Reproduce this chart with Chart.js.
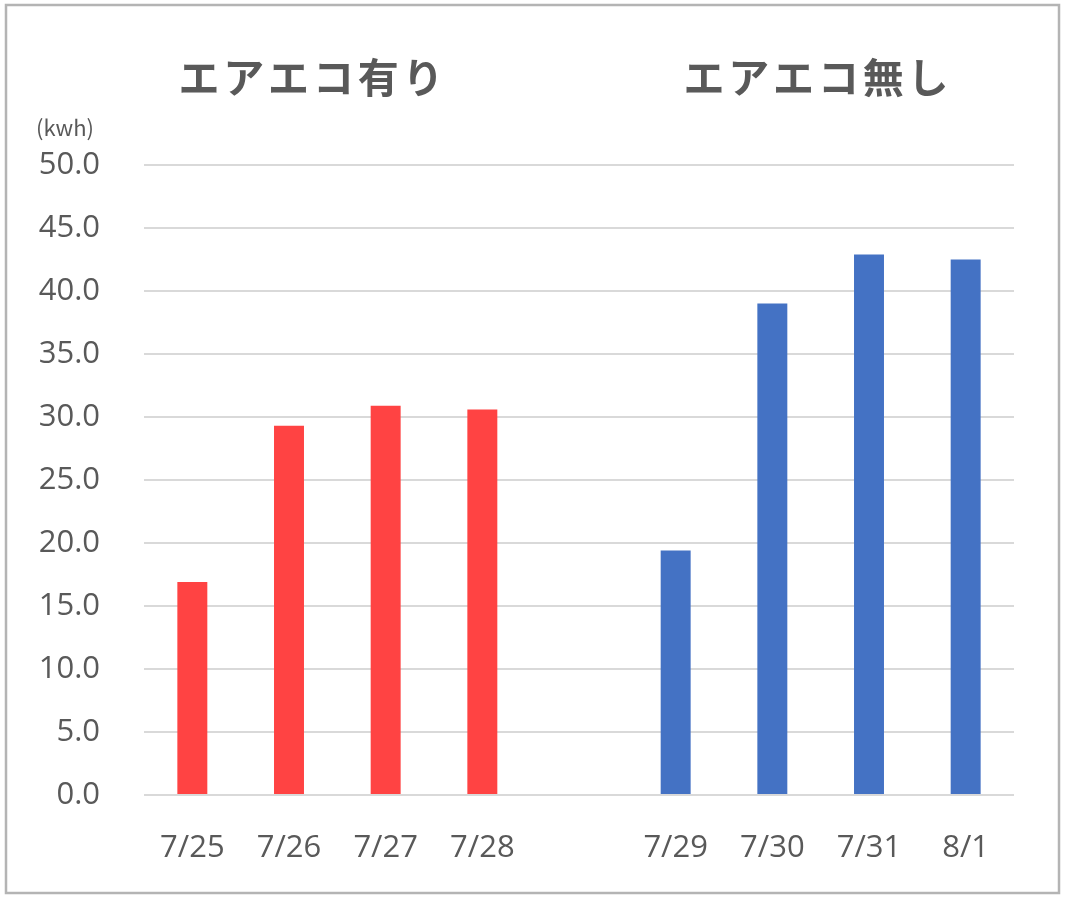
<!DOCTYPE html>
<html><head><meta charset="utf-8">
<script src="https://cdn.jsdelivr.net/npm/chart.js@4/dist/chart.umd.min.js"></script>
<style>html,body{margin:0;padding:0;background:#fff}#wrap{width:1067px;height:914px;position:relative}</style>
</head><body><div id="wrap"><canvas id="c" width="1067" height="914"></canvas></div>
<script>
const categories = ['7/25','7/26','7/27','7/28','','7/29','7/30','7/31','8/1'];
const values = [16.9, 29.3, 30.9, 30.6, null, 19.4, 39.0, 42.9, 42.5];
const barColors = ['#FF4343','#FF4343','#FF4343','#FF4343','#FF4343','#4472C4','#4472C4','#4472C4','#4472C4'];
const groupTitles = ['エアエコ有り','エアエコ無し'];
const unitLabel = '(kwh)';
const yTicks = {min:0, max:50, step:5};

const TXT = '#595959';
const deco = {
  id:'deco',
  afterDraw(chart){
    const ctx = chart.ctx;
    ctx.save();
    ctx.strokeStyle = '#b4b4b4'; ctx.lineWidth = 2.5;
    ctx.strokeRect(6, 5, 1053, 888);
    ctx.fillStyle = TXT;
    ctx.font = 'bold 41px "Noto Sans CJK JP"';
    ctx.textBaseline = 'middle'; ctx.textAlign = 'center';
    const starts = [178, 683];
    groupTitles.forEach((t,i)=>{
      const chars = [...t];
      chars.forEach((ch,j)=>{ ctx.fillText(ch, starts[i] + 21 + j*44.8, 77); });
    });
    ctx.font = '22px "Noto Sans CJK JP"';
    ctx.textAlign = 'left';
    ctx.fillText(unitLabel, 36, 128);
    ctx.restore();
  }
};

new Chart(document.getElementById('c'), {
  type:'bar',
  data:{labels:categories, datasets:[{data:values, backgroundColor:barColors, barPercentage:0.31, categoryPercentage:1}]},
  options:{
    responsive:false, animation:false,
    layout:{padding:{top:165, right:53, bottom:0, left:0}},
    plugins:{legend:{display:false}, tooltip:{enabled:false}},
    scales:{
      x:{
        grid:{display:false, drawTicks:false}, border:{display:false},
        ticks:{color:TXT, font:{family:'"Open Sans", "Noto Sans"', size:31}, padding:35, maxRotation:0, autoSkip:false},
        afterFit(s){ s.height = 914-795; }
      },
      y:{
        min:yTicks.min, max:yTicks.max,
        grid:{color:'#d9d9d9', lineWidth:2, drawTicks:false}, border:{display:false},
        ticks:{stepSize:yTicks.step, color:TXT, font:{family:'"Open Sans", "Noto Sans"', size:31}, padding:44, callback:v=>Number(v).toFixed(1)},
        afterFit(s){ s.width = 144; }
      }
    }
  },
  plugins:[deco]
});
</script></body></html>
